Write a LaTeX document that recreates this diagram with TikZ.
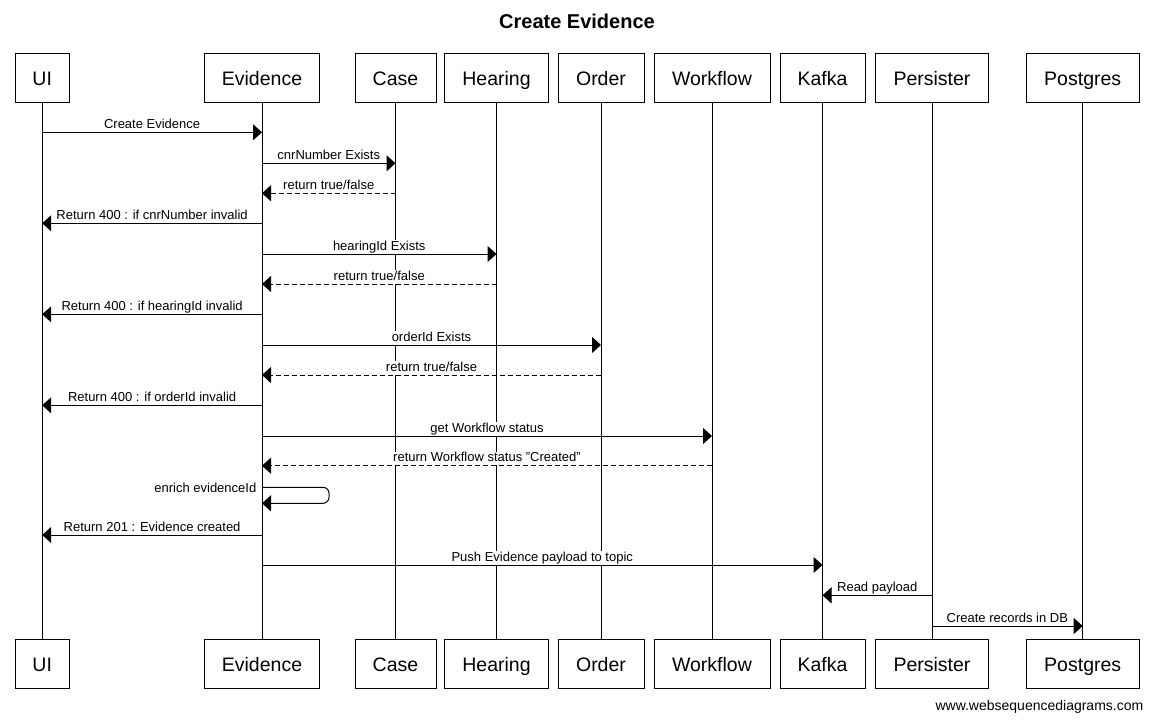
\documentclass[tikz,border=0pt]{standalone}
\usepackage{fontspec}
\setmainfont{Liberation Sans}
\usetikzlibrary{arrows.meta}
\begin{document}
\begin{tikzpicture}[x=1pt,y=-1pt,
  part/.style={draw, line width=1pt, minimum height=49pt, inner sep=0pt,
    font=\fontsize{19.5pt}{22pt}\selectfont, text height=15pt, text depth=0pt},
  life/.style={line width=1pt},
  msg/.style={line width=1pt, -{Triangle[length=9pt,width=16pt]}},
  ret/.style={msg, dash pattern=on 5pt off 3pt},
  lbl/.style={fill=white, inner xsep=1pt, inner ysep=0pt,
    font=\fontsize{13pt}{15pt}\selectfont, text height=10pt, text depth=3.5pt,
    anchor=base, yshift=4pt},
  selflbl/.style={inner sep=0pt, font=\fontsize{13pt}{15pt}\selectfont, anchor=base east}
]
\useasboundingbox[fill=white] (0,0) rectangle (1154,723);

% title and footer
\node[anchor=base, inner sep=0pt, font=\bfseries\fontsize{20pt}{24pt}\selectfont] (title) at (577,28) {Create Evidence};
\node[anchor=base east, inner sep=0pt, font=\fontsize{14pt}{16pt}\selectfont] (foot) at (1143.5,710) {www.websequencediagrams.com};

% participants (top)
\node[part, minimum width=54pt]  (uiT)   at (42.2,77.8)  {UI};
\node[part, minimum width=115pt] (evT)   at (262,77.8)   {Evidence};
\node[part, minimum width=81pt]  (caseT) at (395.5,77.8) {Case};
\node[part, minimum width=104pt] (hearT) at (496.5,77.8) {Hearing};
\node[part, minimum width=86pt]  (ordT)  at (601,77.8)   {Order};
\node[part, minimum width=116pt] (wfT)   at (712,77.8)   {Workflow};
\node[part, minimum width=85pt]  (kafT)  at (822.5,77.8) {Kafka};
\node[part, minimum width=113pt] (perT)  at (932,77.8)   {Persister};
\node[part, minimum width=113pt] (pgT)   at (1082.7,77.8){Postgres};
% participants (bottom)
\node[part, minimum width=54pt]  (uiB)   at (42.2,663.8)  {UI};
\node[part, minimum width=115pt] (evB)   at (262,663.8)   {Evidence};
\node[part, minimum width=81pt]  (caseB) at (395.5,663.8) {Case};
\node[part, minimum width=104pt] (hearB) at (496.5,663.8) {Hearing};
\node[part, minimum width=86pt]  (ordB)  at (601,663.8)   {Order};
\node[part, minimum width=116pt] (wfB)   at (712,663.8)   {Workflow};
\node[part, minimum width=85pt]  (kafB)  at (822.5,663.8) {Kafka};
\node[part, minimum width=113pt] (perB)  at (932,663.8)   {Persister};
\node[part, minimum width=113pt] (pgB)   at (1082.7,663.8){Postgres};

% lifelines
\draw[life] (uiT) -- (uiB);
\draw[life] (evT) -- (evB);
\draw[life] (caseT) -- (caseB);
\draw[life] (hearT) -- (hearB);
\draw[life] (ordT) -- (ordB);
\draw[life] (wfT) -- (wfB);
\draw[life] (kafT) -- (kafB);
\draw[life] (perT) -- (perB);
\draw[life] (pgT) -- (pgB);

% messages
\draw[msg] (uiT |- 0,132.3) -- node[lbl]{Create Evidence} (evT |- 0,132.3);
\draw[msg] (evT |- 0,163.3) -- node[lbl]{cnrNumber Exists} (caseT |- 0,163.3);
\draw[ret] (caseT |- 0,193.3) -- node[lbl]{return true/false} (evT |- 0,193.3);
\draw[msg] (evT |- 0,223.3) -- node[lbl]{Return 400 : if cnrNumber invalid} (uiT |- 0,223.3);
\draw[msg] (evT |- 0,254) -- node[lbl]{hearingId Exists} (hearT |- 0,254);
\draw[ret] (hearT |- 0,284) -- node[lbl]{return true/false} (evT |- 0,284);
\draw[msg] (evT |- 0,314.3) -- node[lbl]{Return 400 : if hearingId invalid} (uiT |- 0,314.3);
\draw[msg] (evT |- 0,345) -- node[lbl]{orderId Exists} (ordT |- 0,345);
\draw[ret] (ordT |- 0,375) -- node[lbl]{return true/false} (evT |- 0,375);
\draw[msg] (evT |- 0,405.3) -- node[lbl]{Return 400 : if orderId invalid} (uiT |- 0,405.3);
\draw[msg] (evT |- 0,436) -- node[lbl]{get Workflow status} (wfT |- 0,436);
\draw[ret] (wfT |- 0,465.7) -- node[lbl]{return Workflow status "Created"} (evT |- 0,465.7);
\node[selflbl] (enrich) at (256.5,492.5) {enrich evidenceId};
\draw[msg, rounded corners=6pt] (evT |- 0,487.3) -- ++(67,0) -- ++(0,16) -- (evT |- 0,503.3);
\draw[msg] (evT |- 0,535) -- node[lbl]{Return 201 : Evidence created} (uiT |- 0,535);
\draw[msg] (evT |- 0,565) -- node[lbl]{Push Evidence payload to topic} (kafT |- 0,565);
\draw[msg] (perT |- 0,595.3) -- node[lbl]{Read payload} (kafT |- 0,595.3);
\draw[msg] (perT |- 0,626) -- node[lbl]{Create records in DB} (pgT |- 0,626);
\end{tikzpicture}
\end{document}
